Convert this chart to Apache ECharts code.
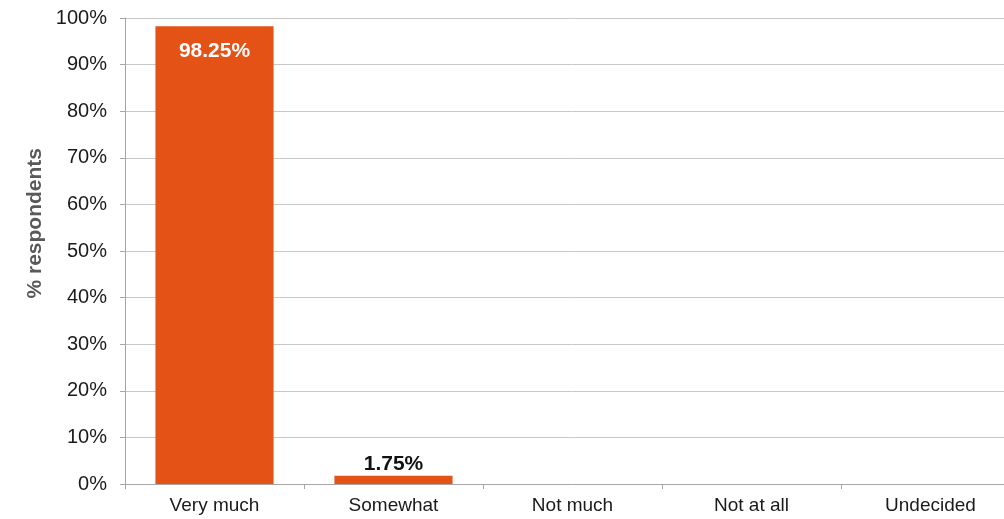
<!DOCTYPE html>
<html>
<head>
<meta charset="utf-8">
<script src="https://cdn.jsdelivr.net/npm/echarts@6/dist/echarts.min.js"></script>
<style>html,body{margin:0;padding:0;background:#fff;overflow:hidden;width:1004px;height:519px;}#c{width:1020px;height:519px;}</style>
</head>
<body>
<div id="c"></div>
<script>
const categories = ['Very much', 'Somewhat', 'Not much', 'Not at all', 'Undecided'];
const values = [98.25, 1.75, null, null, null];
const valueLabels = ['98.25%', '1.75%', '', '', ''];
const yTicks = [0, 10, 20, 30, 40, 50, 60, 70, 80, 90, 100];
const yName = '% respondents';

const chart = echarts.init(document.getElementById('c'), null, {renderer: 'canvas'});
const FONT = '"Liberation Sans", Arial, sans-serif';
chart.setOption({
  animation: false,
  backgroundColor: '#fff',
  grid: {left: 125, top: 18, right: 0, bottom: 35, containLabel: false},
  xAxis: {
    type: 'category',
    data: categories,
    axisLine: {lineStyle: {color: '#a6a6a6', width: 1}},
    axisTick: {show: true, length: 5, interval: 0, lineStyle: {color: '#a6a6a6'}},
    axisLabel: {color: '#1a1a1a', fontSize: 19, fontFamily: FONT, margin: 12, interval: 0}
  },
  yAxis: {
    type: 'value',
    min: yTicks[0],
    max: yTicks[yTicks.length - 1],
    interval: 10,
    axisLine: {show: true, lineStyle: {color: '#a6a6a6', width: 1}},
    axisTick: {show: true, length: 5, lineStyle: {color: '#a6a6a6'}},
    splitLine: {show: true, lineStyle: {color: '#c8c8c8', width: 1}},
    axisLabel: {color: '#1a1a1a', fontSize: 20, fontFamily: FONT, margin: 18, formatter: v => v + '%'}
  },
  graphic: [{
    type: 'text',
    left: 25,
    top: 148,
    rotation: Math.PI / 2,
    style: {text: yName, fill: '#595959', font: 'bold 21px ' + FONT}
  }],
  series: [{
    type: 'bar',
    data: values,
    barWidth: '66%',
    itemStyle: {color: '#E55216'},
    label: {
      show: true,
      fontFamily: FONT,
      fontSize: 21,
      fontWeight: 'bold',
      formatter: p => valueLabels[p.dataIndex]
    }
  }]
});
chart.setOption({
  series: [{
    data: values.map((v, i) => i === 0
      ? {value: v, label: {position: 'insideTop', distance: 15, color: '#ffffff'}}
      : {value: v, label: {position: 'top', distance: 1, color: '#111111'}})
  }]
});
</script>
</body>
</html>
